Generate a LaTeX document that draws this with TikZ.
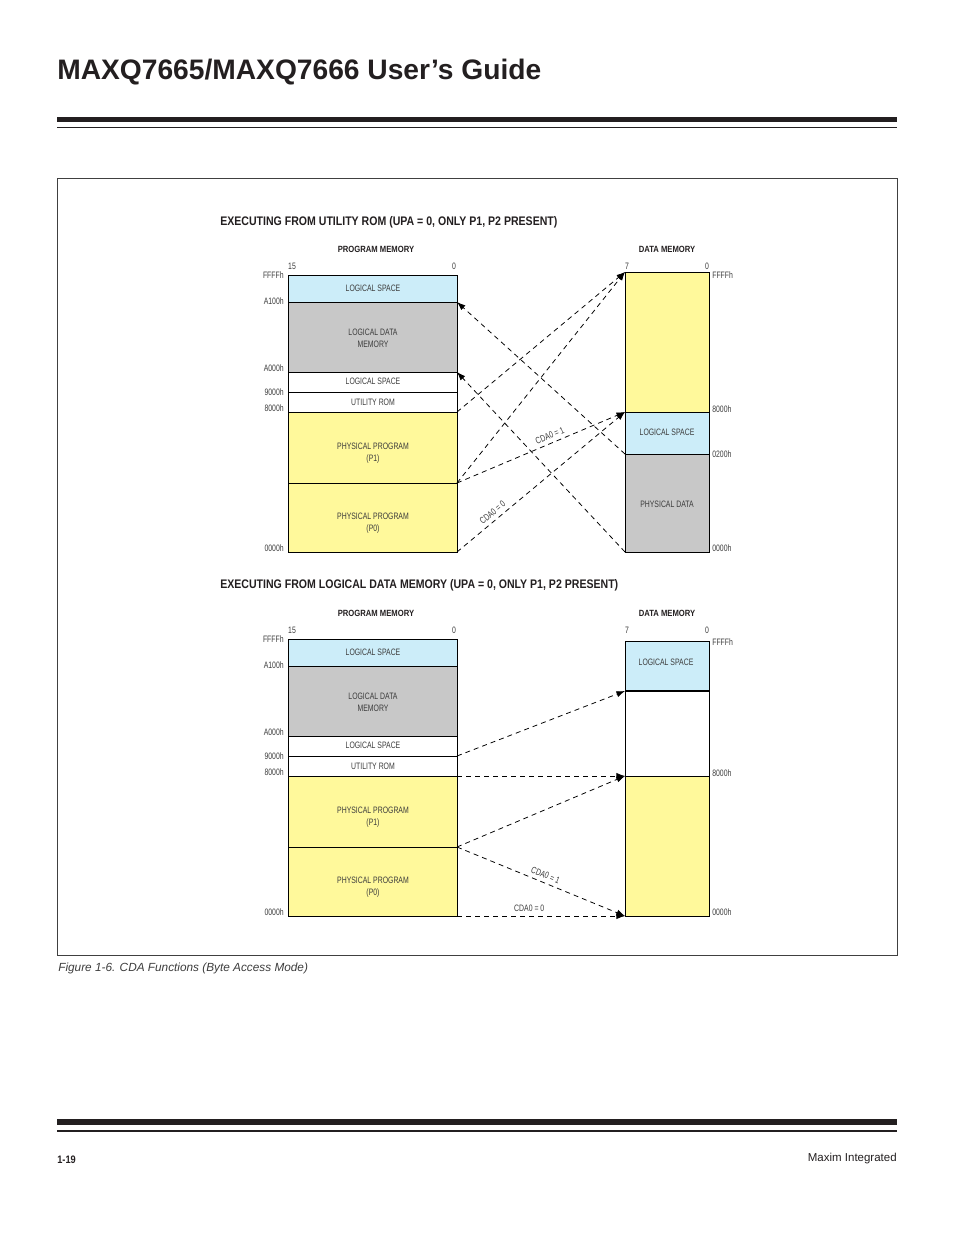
\documentclass[tikz,border=0pt]{standalone}
\usepackage{fontspec}
\usetikzlibrary{arrows.meta}
\setmainfont{Liberation Sans}
\newfontfamily\lblfont[FakeStretch=0.74]{Liberation Sans}
\newfontfamily\hdfont[FakeStretch=0.85]{Liberation Sans}
\definecolor{logblue}{RGB}{204,237,249}
\definecolor{datagray}{RGB}{200,200,200}
\definecolor{physyellow}{RGB}{255,249,155}
\definecolor{lblgray}{RGB}{60,60,60}
\definecolor{inkblack}{RGB}{35,31,32}
\begin{document}
\begin{tikzpicture}[x=0.6415bp, y=-0.6415bp,
    lbl/.style={font=\lblfont\fontsize{6}{7.7}\selectfont, text=lblgray, inner sep=0pt, align=center},
    addrl/.style={lbl, anchor=east},
    addrr/.style={lbl, anchor=west},
    heading/.style={font=\hdfont\bfseries\fontsize{8}{9.6}\selectfont, text=inkblack, inner sep=0pt, anchor=west},
    colhead/.style={font=\hdfont\bfseries\fontsize{5.8}{7}\selectfont, text=inkblack, inner sep=0pt},
    map/.style={dash pattern=on 3.2pt off 2.6pt, line width=0.5pt, -{Latex[length=5.5pt,width=4pt]}},
    cda/.style={lbl, sloped, above=2.5pt}]
  \useasboundingbox (0,0) rectangle (954,1235);

  % page header and footer
  \node[anchor=base west, inner sep=0pt, text=inkblack, font=\bfseries\fontsize{18.15}{20}\selectfont]
    (title) at (57,80) {MAXQ7665/MAXQ7666 User’s Guide};
  \fill[inkblack] (57,117.3) rectangle (897,122.5);
  \fill[inkblack] (57,126.8) rectangle (897,128.3);
  \fill[inkblack] (57,1119.3) rectangle (897,1125);
  \fill[inkblack] (57,1130) rectangle (897,1131.6);
  \node[anchor=west, inner sep=0pt, text=inkblack, font=\hdfont\bfseries\fontsize{7}{8}\selectfont]
    (pageno) at (57,1160) {1-19};
  \node[anchor=east, inner sep=0pt, text=inkblack, font=\fontsize{7.4}{8}\selectfont]
    (maxim) at (897,1159) {Maxim Integrated};

  % figure frame and caption
  \draw[line width=0.6pt, black!75] (57,178) rectangle (897,955);
  \node[anchor=west, inner sep=0pt, text=lblgray, font=\itshape\fontsize{7.6}{8}\selectfont]
    (caption) at (58,968) {Figure 1-6. CDA Functions (Byte Access Mode)};

  % headings of the two cases
  \node[heading] (headtop) at (220,222) {EXECUTING FROM UTILITY ROM (UPA = 0, ONLY P1, P2 PRESENT)};
  \node[heading] (headbot) at (220,585) {EXECUTING FROM LOGICAL DATA MEMORY (UPA = 0, ONLY P1, P2 PRESENT)};

  % program memory, the same in both cases
  \foreach \p/\dy in {t/0,b/364}{
    \begin{scope}[shift={(0,\dy)}]
      \fill[logblue] (288,275) rectangle (457,302);
      \fill[datagray] (288,302) rectangle (457,372);
      \fill[physyellow] (288,412) rectangle (457,552);
      \draw[line width=0.5pt] (288,275) rectangle (457,552);
      \foreach \y in {302,372,392,412,483}
        \draw[line width=0.5pt] (288,\y) -- (457,\y);
      \node[colhead] (\p-pmhead) at (376,249) {PROGRAM MEMORY};
      \node[colhead] (\p-dmhead) at (667,249) {DATA MEMORY};
      \node[lbl] (\p-b15) at (292,266) {15};
      \node[lbl] (\p-b0) at (454,266) {0};
      \node[lbl] (\p-b7) at (627,266) {7};
      \node[lbl] (\p-d0) at (707,266) {0};
      \node[lbl] (\p-ls1) at (373,288.5) {LOGICAL SPACE};
      \node[lbl] (\p-ldm) at (373,338) {LOGICAL DATA\\MEMORY};
      \node[lbl] (\p-ls2) at (373,381.5) {LOGICAL SPACE};
      \node[lbl] (\p-urom) at (373,402) {UTILITY ROM};
      \node[lbl] (\p-pp1) at (373,453) {PHYSICAL PROGRAM\\(P1)};
      \node[lbl] (\p-pp0) at (373,523.5) {PHYSICAL PROGRAM\\(P0)};
      \node[addrl] (\p-aFFFF) at (284,275) {FFFFh};
      \node[addrl] (\p-aA100) at (284,301) {A100h};
      \node[addrl] (\p-aA000) at (284,368) {A000h};
      \node[addrl] (\p-a9000) at (284,392) {9000h};
      \node[addrl] (\p-a8000) at (284,408) {8000h};
      \node[addrl] (\p-a0000) at (284,548) {0000h};
      \coordinate (\p A100) at (457,302);
      \coordinate (\p A000) at (457,372);
      \coordinate (\p 9000) at (457,392);
      \coordinate (\p 8000) at (457,412);
      \coordinate (\p P1P0) at (457,483);
      \coordinate (\p 0000) at (457,552);
    \end{scope}
  }

  % data memory, first case
  \fill[physyellow] (625,272) rectangle (709,412);
  \fill[logblue] (625,412) rectangle (709,454);
  \fill[datagray] (625,454) rectangle (709,552);
  \draw[line width=0.5pt] (625,272) rectangle (709,552);
  \draw[line width=0.5pt] (625,412) -- (709,412) (625,454) -- (709,454);
  \node[lbl] (tdls) at (667,432) {LOGICAL SPACE};
  \node[lbl] (tdpd) at (667,504) {PHYSICAL DATA};
  \node[addrr] (tdaFFFF) at (712,275) {FFFFh};
  \node[addrr] (tda8000) at (712,409) {8000h};
  \node[addrr] (tda0200) at (712,454) {0200h};
  \node[addrr] (tda0000) at (712,548) {0000h};
  \coordinate (tdFFFF) at (625,272);
  \coordinate (td8000) at (625,412);
  \coordinate (td0200) at (625,454);
  \coordinate (td0000) at (625,552);

  % data memory, second case
  \fill[logblue] (625,641) rectangle (709,691);
  \fill[physyellow] (625,776) rectangle (709,916);
  \draw[line width=0.5pt] (625,641) rectangle (709,916);
  \draw[line width=1.2pt] (625,691) -- (709,691);
  \draw[line width=0.5pt] (625,776) -- (709,776);
  \node[lbl] (bdls) at (666,662) {LOGICAL SPACE};
  \node[addrr] (bdaFFFF) at (712,642) {FFFFh};
  \node[addrr] (bda8000) at (712,773) {8000h};
  \node[addrr] (bda0000) at (712,912) {0000h};
  \coordinate (bdLS) at (625,691);
  \coordinate (bd8000) at (625,776);
  \coordinate (bd0000) at (625,916);

  % mappings, first case
  \draw[map] (td0200) -- (tA100);
  \draw[map] (td0000) -- (tA000);
  \draw[map] (t8000) -- (tdFFFF);
  \draw[map] (tP1P0) -- (tdFFFF);
  \draw[map] (tP1P0) -- node[cda, pos=0.57] (tcda1) {CDA0 = 1} (td8000);
  \draw[map] (t0000) -- node[cda, pos=0.24] (tcda0) {CDA0 = 0} (td8000);

  % mappings, second case
  \draw[map] (b9000) -- (bdLS);
  \draw[map] (b8000) -- (bd8000);
  \draw[map] (bP1P0) -- (bd8000);
  \draw[map] (bP1P0) -- node[cda, pos=0.51] (bcda1) {CDA0 = 1} (bd0000);
  \draw[map] (b0000) -- node[cda, pos=0.43] (bcda0) {CDA0 = 0} (bd0000);
\end{tikzpicture}
\end{document}
